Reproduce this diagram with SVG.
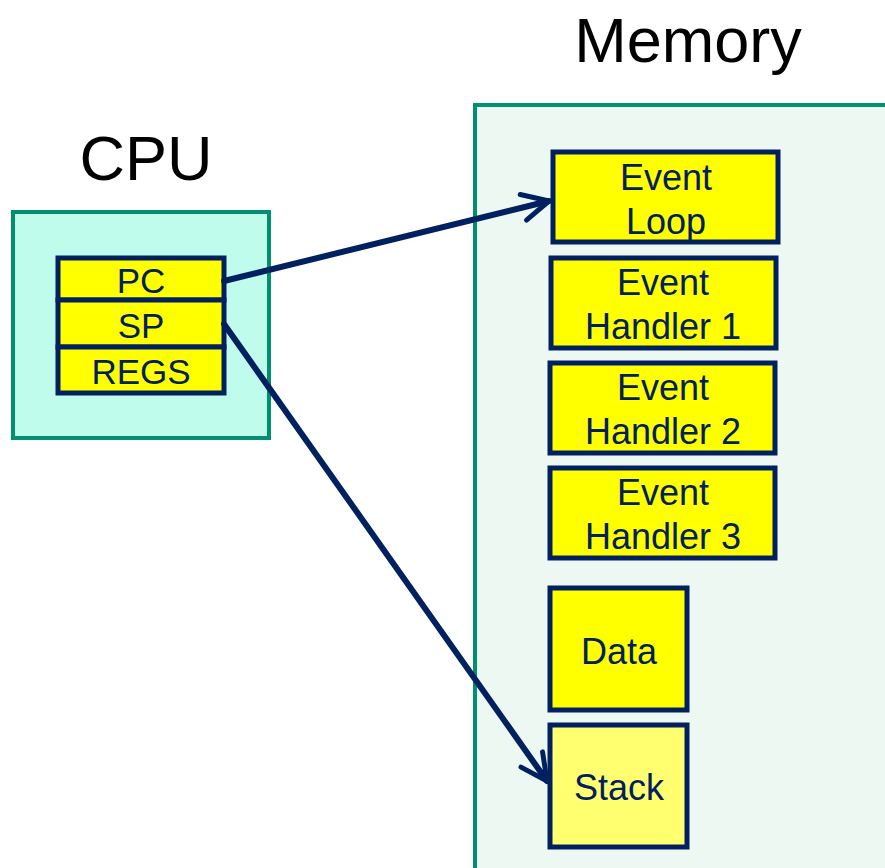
<svg xmlns="http://www.w3.org/2000/svg" width="885" height="868" viewBox="0 0 885 868">
<defs>
<style>
.frame{stroke:#009070;stroke-width:4}
.box{fill:#ffff00;stroke:#00205f;stroke-width:5}
.t{font-family:"Liberation Sans",Arial,sans-serif;fill:#00205f;text-anchor:middle}
.big{font-family:"Liberation Sans",Arial,sans-serif;fill:#000;text-anchor:middle;font-size:63px}
.conn{stroke:#00205f;stroke-width:6;fill:none;stroke-linecap:round}
</style>
<marker id="ah" viewBox="0 0 10 10" refX="9" refY="5" markerWidth="5.5" markerHeight="5.5" orient="auto" markerUnits="strokeWidth">
<path d="M1,1 L9,5 L1,9" fill="none" stroke="#00205f" stroke-width="1.5" stroke-linecap="round" stroke-linejoin="round"/>
</marker>
</defs>
<rect width="885" height="868" fill="#fff"/>
<g id="memory">
<rect class="frame" x="475" y="105" width="420" height="780" fill="#eef8f2"/>
<text class="big" x="688" y="62">Memory</text>
</g>
<g id="cpu">
<rect class="frame" x="13" y="212" width="256" height="226" fill="#c0fcec"/>
<text class="big" x="146" y="180">CPU</text>
</g>
<g id="pc"><rect class="box" x="58" y="258" width="166" height="42"/><text class="t" x="141" y="293" font-size="35">PC</text></g>
<g id="sp"><rect class="box" x="58" y="300" width="166" height="47"/><text class="t" x="141" y="338" font-size="35">SP</text></g>
<g id="regs"><rect class="box" x="58" y="347" width="166" height="46"/><text class="t" x="141" y="384" font-size="35">REGS</text></g>
<g id="eventloop"><rect class="box" x="553" y="152" width="225" height="90"/><text class="t" x="666" y="190" font-size="36">Event</text><text class="t" x="666" y="234" font-size="36">Loop</text></g>
<g id="handler1"><rect class="box" x="551" y="258" width="225" height="90"/><text class="t" x="663" y="295" font-size="36">Event</text><text class="t" x="663" y="339" font-size="36">Handler 1</text></g>
<g id="handler2"><rect class="box" x="550" y="363" width="225" height="90"/><text class="t" x="663" y="400" font-size="36">Event</text><text class="t" x="663" y="444" font-size="36">Handler 2</text></g>
<g id="handler3"><rect class="box" x="550" y="468" width="225" height="90"/><text class="t" x="663" y="505" font-size="36">Event</text><text class="t" x="663" y="549" font-size="36">Handler 3</text></g>
<g id="data"><rect class="box" x="550" y="588" width="137" height="122"/><text class="t" x="619" y="664" font-size="36">Data</text></g>
<g id="stack"><rect class="box" x="550" y="725" width="137" height="122" style="fill:#ffff70"/><text class="t" x="619" y="800" font-size="36">Stack</text></g>
<g id="connectors">
<line class="conn" x1="224" y1="281" x2="549" y2="201" marker-end="url(#ah)"/>
<line class="conn" x1="224" y1="324" x2="547" y2="781" marker-end="url(#ah)"/>
</g>
</svg>
